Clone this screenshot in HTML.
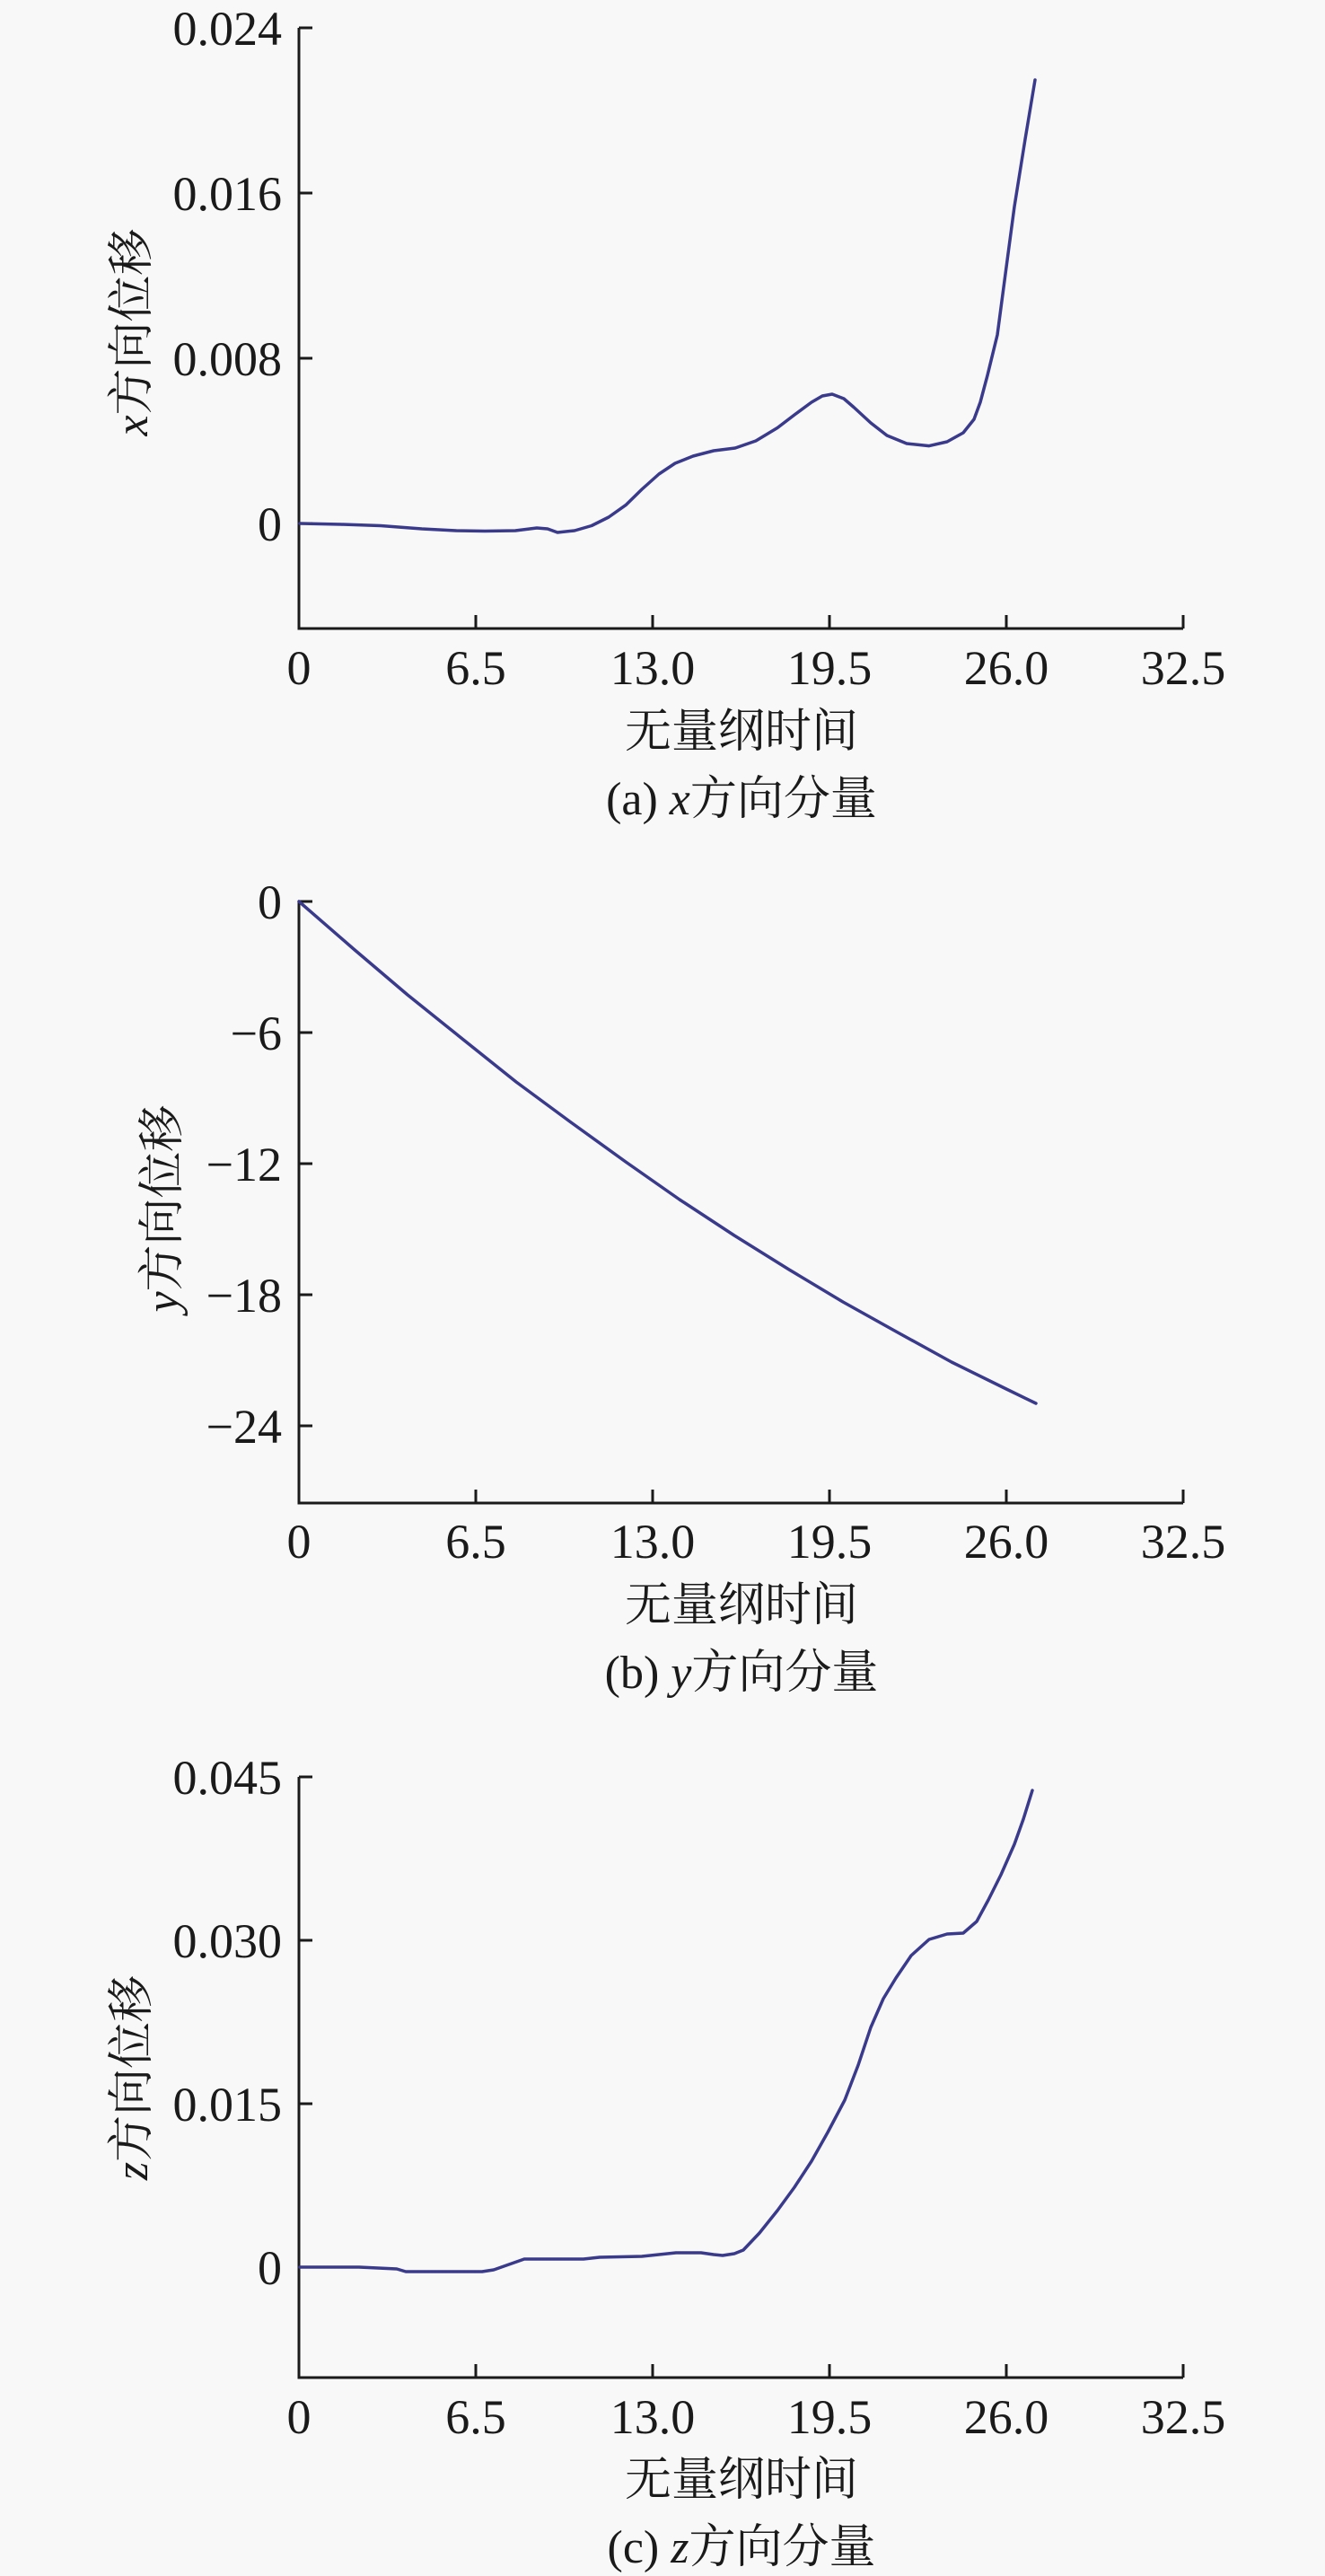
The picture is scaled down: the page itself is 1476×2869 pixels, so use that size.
<!DOCTYPE html>
<html><head><meta charset="utf-8"><style>
html,body{margin:0;padding:0;background:#f8f8f8;}
svg{display:block;}
text{font-family:"Liberation Serif","Noto Serif CJK SC","Noto Sans CJK SC",serif;fill:#1a1a1a;}
</style></head><body>
<svg width="1476" height="2869" viewBox="0 0 1476 2869" xmlns="http://www.w3.org/2000/svg">
<rect width="1476" height="2869" fill="#f8f8f8"/>
<g stroke="#1a1a1a" stroke-width="3" fill="none">
<path d="M333 31 V700 H1318"/>
<path d="M333 31 h15 M333 215 h15 M333 399 h15 M333 583 h15"/>
<path d="M530 700 v-15 M727 700 v-15 M924 700 v-15 M1121 700 v-15 M1318 700 v-15"/>
<path d="M333 1004 V1674 H1318"/>
<path d="M333 1004 h15 M333 1150 h15 M333 1296 h15 M333 1442 h15 M333 1588 h15"/>
<path d="M530 1674 v-15 M727 1674 v-15 M924 1674 v-15 M1121 1674 v-15 M1318 1674 v-15"/>
<path d="M333 1979 V2648 H1318"/>
<path d="M333 1979 h15 M333 2161 h15 M333 2343 h15 M333 2525 h15"/>
<path d="M530 2648 v-15 M727 2648 v-15 M924 2648 v-15 M1121 2648 v-15 M1318 2648 v-15"/>
</g>
<g stroke="#3a3a8c" stroke-width="3.5" fill="none" stroke-linejoin="round" stroke-linecap="round">
<polyline points="334,583 380,584 424,585.5 470,589 508,591 540,591.5 574,591 598,588 610,589 621,593 640,591 659,585.5 678,576 697,562.6 715,545 734,528 752,516 772,508 795,502 819,499 842,491 866,476.5 885,462 904,448 916,441 927,439 940,444 951,453.5 970,471 988,485 1010,494 1035,496.6 1055,492 1073,482 1085,467 1092,448 1100,418 1111,373 1120,305 1130,230 1142,155 1153,89"/>
<polyline points="333,1004 394,1057 454,1108 515,1157 575,1205 636,1250 697,1294 757,1336 818,1376 879,1414 939,1450 1000,1484 1060,1517 1121,1547 1154,1563"/>
<polyline points="334,2525 400,2525 442,2527 452,2530 537,2530 550,2528 584,2516 620,2516 650,2516 668,2514 715,2513 753,2509 781,2509 795,2511 805,2512 818,2510 828,2506 846,2487 866,2462 885,2436 904,2407 922,2375 941,2339 956,2300 970,2258 984,2226 998,2203 1015,2178 1035,2160 1055,2154 1073,2153 1088,2140 1101,2116 1115,2088 1130,2054 1140,2026 1150,1994"/>
</g>
<g font-size="54" text-anchor="end">
<text x="314" y="50">0.024</text>
<text x="314" y="234">0.016</text>
<text x="314" y="418">0.008</text>
<text x="314" y="602">0</text>
<text x="314" y="1023">0</text>
<text x="314" y="1169">−6</text>
<text x="314" y="1315">−12</text>
<text x="314" y="1461">−18</text>
<text x="314" y="1607">−24</text>
<text x="314" y="1998">0.045</text>
<text x="314" y="2180">0.030</text>
<text x="314" y="2362">0.015</text>
<text x="314" y="2544">0</text>
</g>
<g font-size="54" text-anchor="middle">
<text x="333" y="762">0</text><text x="530" y="762">6.5</text><text x="727" y="762">13.0</text><text x="924" y="762">19.5</text><text x="1121" y="762">26.0</text><text x="1318" y="762">32.5</text>
<text x="333" y="1735">0</text><text x="530" y="1735">6.5</text><text x="727" y="1735">13.0</text><text x="924" y="1735">19.5</text><text x="1121" y="1735">26.0</text><text x="1318" y="1735">32.5</text>
<text x="333" y="2710">0</text><text x="530" y="2710">6.5</text><text x="727" y="2710">13.0</text><text x="924" y="2710">19.5</text><text x="1121" y="2710">26.0</text><text x="1318" y="2710">32.5</text>
</g>
<g font-size="52" text-anchor="middle">
<text x="826" y="832">无量纲时间</text>
<text x="826" y="907">(a) <tspan font-style="italic">x</tspan>方向分量</text>
<text x="826" y="1805">无量纲时间</text>
<text x="826" y="1880">(b) <tspan font-style="italic">y</tspan>方向分量</text>
<text x="826" y="2779">无量纲时间</text>
<text x="826" y="2854">(c) <tspan font-style="italic">z</tspan>方向分量</text>
<text transform="translate(164,370) rotate(-90)"><tspan font-style="italic">x</tspan>方向位移</text>
<text transform="translate(198,1346) rotate(-90)"><tspan font-style="italic">y</tspan>方向位移</text>
<text transform="translate(164,2314) rotate(-90)"><tspan font-style="italic">z</tspan>方向位移</text>
</g>
</svg>
</body></html>
